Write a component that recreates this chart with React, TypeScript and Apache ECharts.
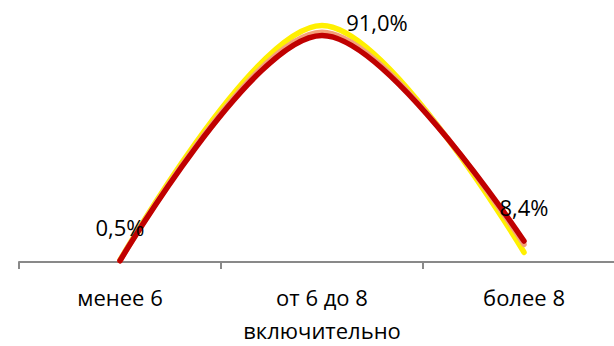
import React, { useEffect, useRef } from "react";
import * as echarts from "echarts";

const categories = ["менее 6", "от 6 до 8\nвключительно", "более 8"];
const yellowValues = [0.8, 95.0, 3.9];
const salmonValues = [0.6, 92.3, 7.1];
const redValues = [0.5, 91.0, 8.4];
const redLabels = ["0,5%", "91,0%", "8,4%"];
const labelOffsets: [number, number][] = [[0, -34], [55, -13], [0, -34]];

const FONT = "Open Sans";

export default function App() {
  const ref = useRef<HTMLDivElement>(null);
  useEffect(() => {
    if (!ref.current) return;
    const chart = echarts.init(ref.current, undefined, { renderer: "svg" });
    const mk = (name: string, data: number[], color: string, withLabels: boolean) => ({
      name,
      type: "line",
      smooth: 0.33,
      symbol: "circle",
      symbolSize: 0.01,
      showSymbol: true,
      itemStyle: { color: "rgba(0,0,0,0)" },
      lineStyle: { color, width: 5.5, cap: "round", join: "round" },
      emphasis: { disabled: true },
      data: data.map((v, i) => ({
        value: v,
        label: withLabels
          ? {
              show: true,
              position: "inside",
              offset: labelOffsets[i],
              formatter: redLabels[i],
              color: "#000",
              fontFamily: FONT,
              fontSize: 22,
            }
          : { show: false },
      })),
    });
    chart.setOption({
      animation: false,
      backgroundColor: "#fff",
      grid: { left: 19, right: 0, top: 13, bottom: 78, containLabel: false },
      xAxis: {
        type: "category",
        data: categories,
        boundaryGap: true,
        axisLine: { show: true, lineStyle: { color: "#898989", width: 2 } },
        axisTick: { show: true, length: 7, lineStyle: { color: "#898989", width: 2 } },
        axisLabel: {
          color: "#000",
          fontFamily: FONT,
          fontSize: 22,
          lineHeight: 33,
          margin: 18,
          interval: 0,
        },
      },
      yAxis: { type: "value", min: 0, max: 100, show: false, splitLine: { show: false } },
      series: [
        mk("y", yellowValues, "#FFF000", false),
        mk("s", salmonValues, "#F4A07A", false),
        mk("r", redValues, "#C00000", true),
      ],
    });
    return () => chart.dispose();
  }, []);
  return (
    <div style={{ position: "fixed", left: 0, top: 0, width: 614, height: 346, overflow: "hidden", background: "#fff" }}>
      <div ref={ref} style={{ width: 625, height: 346 }} />
    </div>
  );
}
